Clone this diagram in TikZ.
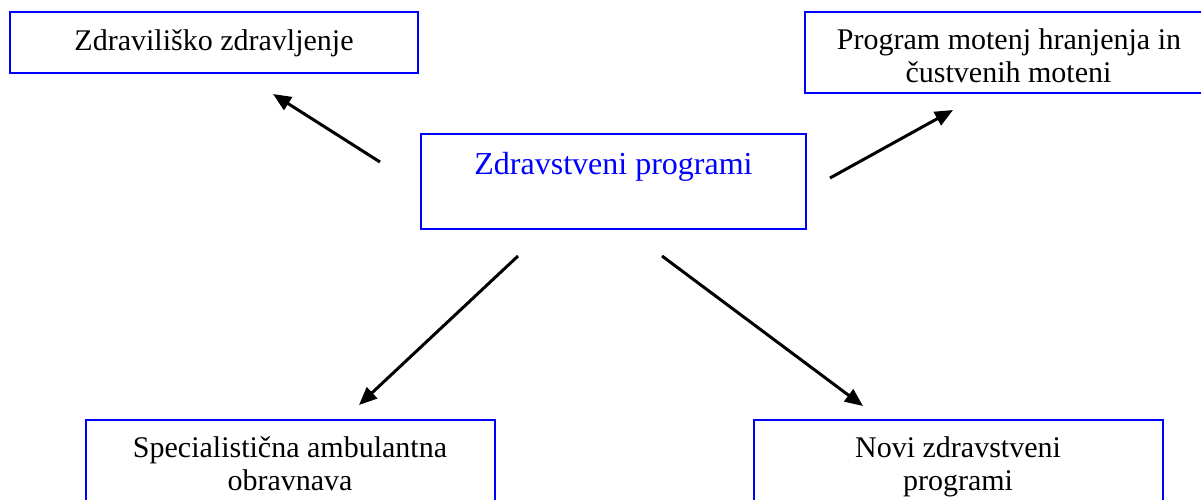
\documentclass[tikz,border=0pt]{standalone}
\usepackage{fontspec}
\setmainfont{Liberation Serif}
\usetikzlibrary{arrows.meta}
\tikzset{
  boxshape/.style={draw=blue, line width=2pt, inner sep=0pt},
  lbl/.style={anchor=base, inner sep=0pt, font=\fontsize{30}{34}\selectfont},
  mainlbl/.style={anchor=base, inner sep=0pt, text=blue, font=\fontsize{32}{36}\selectfont},
  arr/.style={line width=3pt, -{Triangle[length=18pt,width=15pt]}}
}
\begin{document}
\begin{tikzpicture}[x=1pt,y=-1pt]
\useasboundingbox (0,0) rectangle (1201,499);
% boxes
\draw[boxshape] (10,12) rectangle (418,73);
\draw[boxshape] (805,12) rectangle (1205,93);
\draw[boxshape] (421,134) rectangle (806,229);
\draw[boxshape] (86,420) rectangle (495,515);
\draw[boxshape] (754,420) rectangle (1163,515);
% texts
\node[lbl] (tl) at (214,50) {Zdraviliško zdravljenje};
\node[lbl] (tra) at (1009,49) {Program motenj hranjenja in};
\node[lbl] (trb) at (1008.5,82) {čustvenih moteni};
\node[mainlbl] (c) at (613.5,174) {Zdravstveni programi};
\node[lbl] (bla) at (290,457) {Specialistična ambulantna};
\node[lbl] (blb) at (290,490) {obravnava};
\node[lbl] (bra) at (958,457) {Novi zdravstveni};
\node[lbl] (brb) at (958,490) {programi};
% arrow ends
\coordinate (a1s) at (380,162);
\coordinate (a1e) at (273,94);
\coordinate (a2s) at (830,178);
\coordinate (a2e) at (953,110);
\coordinate (a3s) at (518,256);
\coordinate (a3e) at (359,405);
\coordinate (a4s) at (662,256);
\coordinate (a4e) at (863,406);
\draw[arr] (a1s) -- (a1e);
\draw[arr] (a2s) -- (a2e);
\draw[arr] (a3s) -- (a3e);
\draw[arr] (a4s) -- (a4e);
\end{tikzpicture}
\end{document}
